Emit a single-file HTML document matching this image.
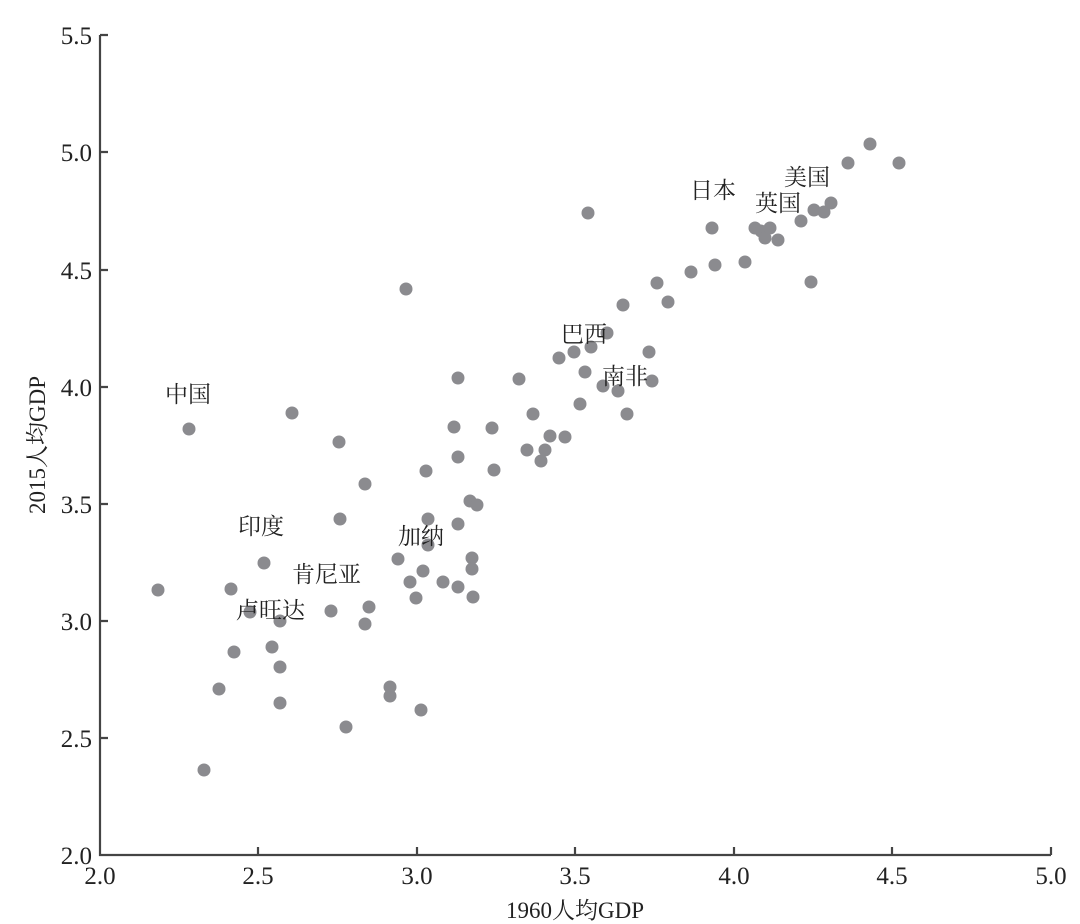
<!DOCTYPE html><html><head><meta charset="utf-8"><style>body{margin:0;background:#fff}svg{display:block}text{font-family:"Liberation Serif","Noto Serif CJK SC",serif;fill:#222}</style></head><body>
<svg width="1080" height="924" xmlns="http://www.w3.org/2000/svg">
<g stroke="#444" stroke-width="2.2" fill="none">
<path d="M100,35V855H1051"/>
<path d="M100,35h8M100,152h8M100,270h8M100,387h8M100,504h8M100,621h8M100,738h8"/>
<path d="M258,855v-8M417,855v-8M575,855v-8M734,855v-8M892,855v-8M1051,855v-8"/>
</g>
<g font-size="25" text-anchor="end">
<text x="92" y="44">5.5</text><text x="92" y="161">5.0</text><text x="92" y="279">4.5</text><text x="92" y="396">4.0</text><text x="92" y="513">3.5</text><text x="92" y="630">3.0</text><text x="92" y="747">2.5</text><text x="92" y="864">2.0</text>
</g>
<g font-size="25" text-anchor="middle">
<text x="100" y="884">2.0</text><text x="258" y="884">2.5</text><text x="417" y="884">3.0</text><text x="575" y="884">3.5</text><text x="734" y="884">4.0</text><text x="892" y="884">4.5</text><text x="1051" y="884">5.0</text>
<text x="575" y="918" font-size="23">1960人均GDP</text>
<text transform="translate(45,445) rotate(-90)" font-size="23">2015人均GDP</text>
</g>
<g fill="#8b8b8f">
<circle cx="158" cy="590" r="6.5"/><circle cx="189" cy="429" r="6.5"/><circle cx="204" cy="770" r="6.5"/><circle cx="219" cy="689" r="6.5"/><circle cx="231" cy="589" r="6.5"/><circle cx="234" cy="652" r="6.5"/><circle cx="250" cy="612" r="6.5"/><circle cx="264" cy="563" r="6.5"/><circle cx="272" cy="647" r="6.5"/><circle cx="280" cy="667" r="6.5"/><circle cx="280" cy="621" r="6.5"/><circle cx="280" cy="703" r="6.5"/><circle cx="292" cy="413" r="6.5"/><circle cx="331" cy="611" r="6.5"/><circle cx="339" cy="442" r="6.5"/><circle cx="340" cy="519" r="6.5"/><circle cx="346" cy="727" r="6.5"/><circle cx="365" cy="484" r="6.5"/><circle cx="365" cy="624" r="6.5"/><circle cx="369" cy="607" r="6.5"/><circle cx="390" cy="687" r="6.5"/><circle cx="390" cy="696" r="6.5"/><circle cx="398" cy="559" r="6.5"/><circle cx="406" cy="289" r="6.5"/><circle cx="410" cy="582" r="6.5"/><circle cx="416" cy="598" r="6.5"/><circle cx="421" cy="710" r="6.5"/><circle cx="423" cy="571" r="6.5"/><circle cx="426" cy="471" r="6.5"/><circle cx="428" cy="519" r="6.5"/><circle cx="428" cy="545" r="6.5"/><circle cx="443" cy="582" r="6.5"/><circle cx="454" cy="427" r="6.5"/><circle cx="458" cy="457" r="6.5"/><circle cx="458" cy="524" r="6.5"/><circle cx="458" cy="587" r="6.5"/><circle cx="458" cy="378" r="6.5"/><circle cx="470" cy="501" r="6.5"/><circle cx="477" cy="505" r="6.5"/><circle cx="472" cy="558" r="6.5"/><circle cx="472" cy="569" r="6.5"/><circle cx="473" cy="597" r="6.5"/><circle cx="492" cy="428" r="6.5"/><circle cx="494" cy="470" r="6.5"/><circle cx="519" cy="379" r="6.5"/><circle cx="527" cy="450" r="6.5"/><circle cx="533" cy="414" r="6.5"/><circle cx="541" cy="461" r="6.5"/><circle cx="545" cy="450" r="6.5"/><circle cx="550" cy="436" r="6.5"/><circle cx="565" cy="437" r="6.5"/><circle cx="559" cy="358" r="6.5"/><circle cx="574" cy="352" r="6.5"/><circle cx="580" cy="404" r="6.5"/><circle cx="585" cy="372" r="6.5"/><circle cx="591" cy="347" r="6.5"/><circle cx="588" cy="213" r="6.5"/><circle cx="603" cy="386" r="6.5"/><circle cx="607" cy="333" r="6.5"/><circle cx="618" cy="391" r="6.5"/><circle cx="623" cy="305" r="6.5"/><circle cx="627" cy="414" r="6.5"/><circle cx="649" cy="352" r="6.5"/><circle cx="652" cy="381" r="6.5"/><circle cx="657" cy="283" r="6.5"/><circle cx="668" cy="302" r="6.5"/><circle cx="691" cy="272" r="6.5"/><circle cx="712" cy="228" r="6.5"/><circle cx="715" cy="265" r="6.5"/><circle cx="745" cy="262" r="6.5"/><circle cx="755" cy="228" r="6.5"/><circle cx="761" cy="231" r="6.5"/><circle cx="765" cy="238" r="6.5"/><circle cx="770" cy="228" r="6.5"/><circle cx="778" cy="240" r="6.5"/><circle cx="801" cy="221" r="6.5"/><circle cx="811" cy="282" r="6.5"/><circle cx="814" cy="210" r="6.5"/><circle cx="824" cy="212" r="6.5"/><circle cx="831" cy="203" r="6.5"/><circle cx="848" cy="163" r="6.5"/><circle cx="870" cy="144" r="6.5"/><circle cx="899" cy="163" r="6.5"/>
</g>
<g font-size="23" style="font-family:'Noto Sans CJK SC',sans-serif">
<text x="165" y="402">中国</text><text x="238" y="534">印度</text><text x="292" y="582">肯尼亚</text><text x="236" y="618">卢旺达</text><text x="398" y="544">加纳</text><text x="561" y="342">巴西</text><text x="602" y="384">南非</text><text x="690" y="198">日本</text><text x="755" y="211">英国</text><text x="784" y="185">美国</text>
</g>
</svg></body></html>
